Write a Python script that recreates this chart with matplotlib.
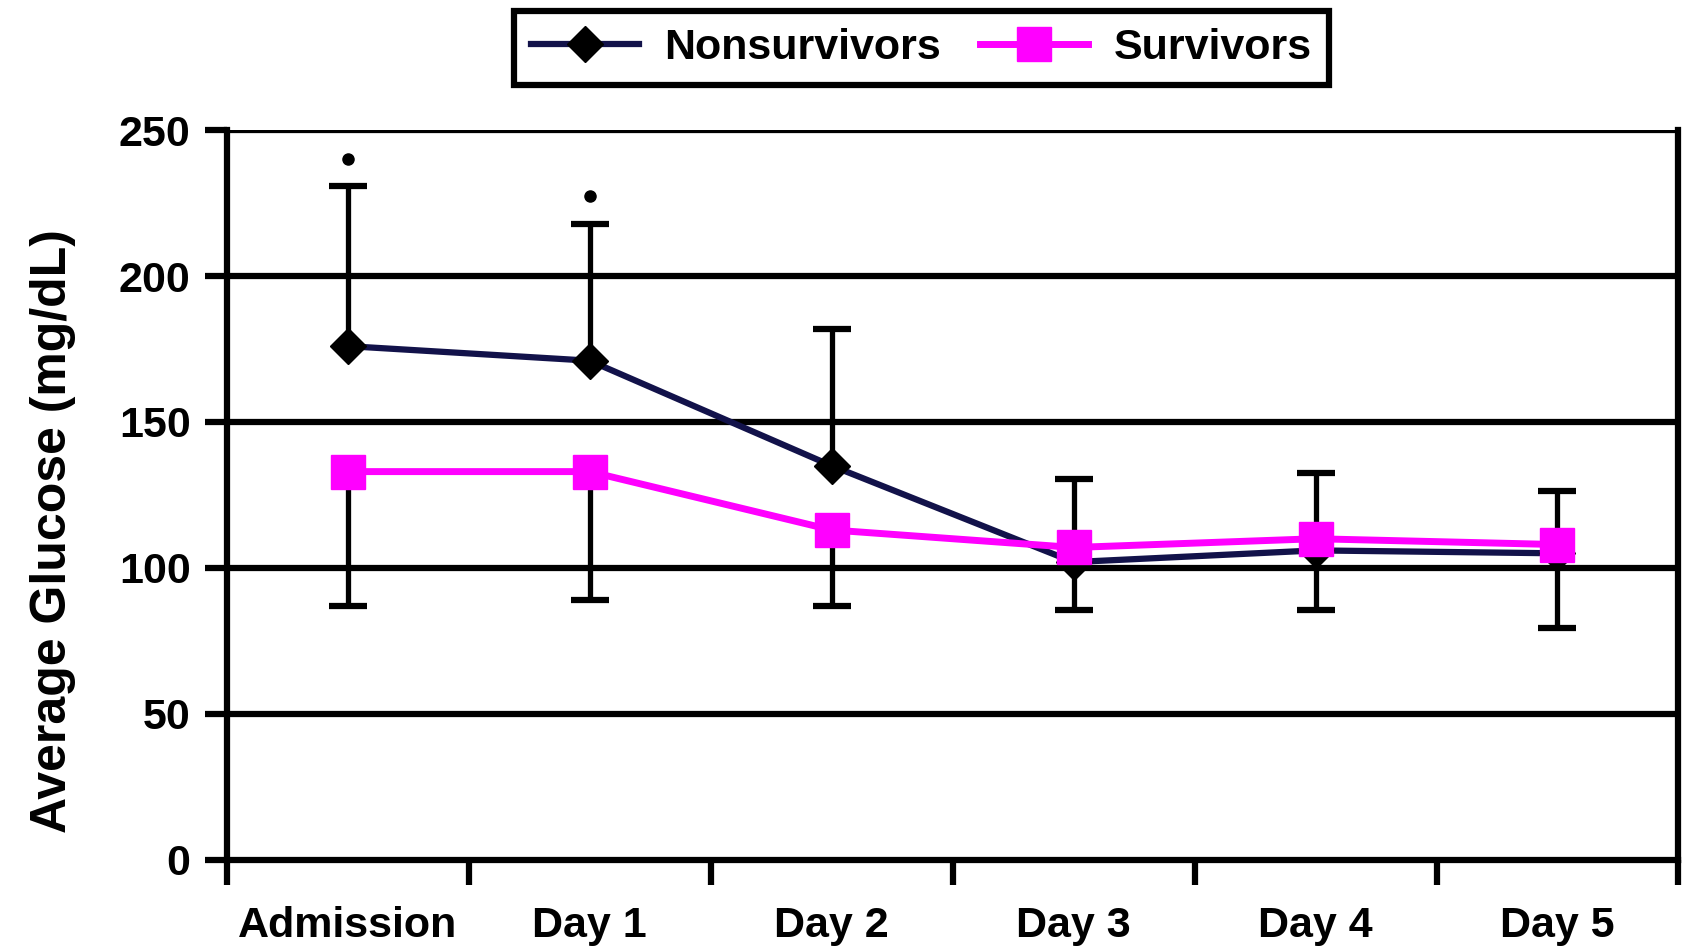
import matplotlib.pyplot as plt

# data
days = ["Admission", "Day 1", "Day 2", "Day 3", "Day 4", "Day 5"]
nonsurvivors = [176, 171, 135, 102, 106, 105]
survivors = [133, 133, 113, 107, 110, 108]
nonsurv_upper = [231, 218, 182, 130.5, 132.5, 126.5]
surv_lower = [87, 89, 87, 85.5, 85.5, 79.5]
sig_marks = [240, 227.5]  # dots above Admission and Day 1
yticks = [0, 50, 100, 150, 200, 250]

plt.rcParams['font.family'] = ['Liberation Sans', 'DejaVu Sans']
plt.rcParams['font.weight'] = 'bold'

fig = plt.figure(figsize=(16.92, 9.5), dpi=100)
ax = fig.add_axes([0.134, 0.095, 0.858, 0.768])

x = list(range(len(days)))

# gridlines
for v in yticks[1:]:
	ax.axhline(v, color="black", lw=4.5, zorder=1)

# one-sided error bars: stem from the mean, cap only at the far end
ax.vlines(x, nonsurvivors, nonsurv_upper, color="black", lw=3.8, zorder=2)
ax.vlines(x, surv_lower, survivors, color="black", lw=3.8, zorder=2)
ax.plot(x, nonsurv_upper, linestyle="none", marker="_", ms=28, mew=4.5,
	color="black", zorder=2)
ax.plot(x, surv_lower, linestyle="none", marker="_", ms=28, mew=4.5,
	color="black", zorder=2)

ax.plot(x, nonsurvivors, color="#12124a", lw=4.5, marker="D", ms=18,
	mfc="black", mec="black", label="Nonsurvivors", zorder=3)
ax.plot(x, survivors, color="#ff00ff", lw=5, marker="s", ms=25,
	mfc="#ff00ff", mec="#ff00ff", label="Survivors", zorder=4)

ax.plot(x[:len(sig_marks)], sig_marks, "o", color="black", ms=8, zorder=5)

ax.set_xlim(-0.5, 5.5)
ax.set_ylim(0, 250)
ax.set_yticks(yticks)
ax.set_xticks(x)
ax.set_xticklabels(days)
ax.set_xticks([i - 0.5 for i in range(len(days) + 1)], minor=True)
ax.tick_params(axis="x", which="major", length=0, pad=33, labelsize=31)
ax.tick_params(axis="x", which="minor", length=18, width=4.5, direction="out")
ax.tick_params(axis="y", length=16, width=4.5, pad=10, labelsize=31)

for s in ["left", "bottom", "right"]:
	ax.spines[s].set_linewidth(4.5)
ax.spines["top"].set_visible(False)

ax.set_ylabel("Average Glucose (mg/dL)", fontsize=36, fontweight="bold")
ax.yaxis.set_label_coords(-0.104, 0.45)

leg = fig.legend(loc="upper center", bbox_to_anchor=(0.5445, 1.0), ncol=2,
	fontsize=31, frameon=True, fancybox=False, framealpha=1, handlelength=2.5,
	columnspacing=0.9, handletextpad=0.6, borderpad=0.4, borderaxespad=0.25)
leg.get_frame().set_edgecolor("black")
leg.get_frame().set_linewidth(4.5)

fig.savefig("out.png", dpi=100)
